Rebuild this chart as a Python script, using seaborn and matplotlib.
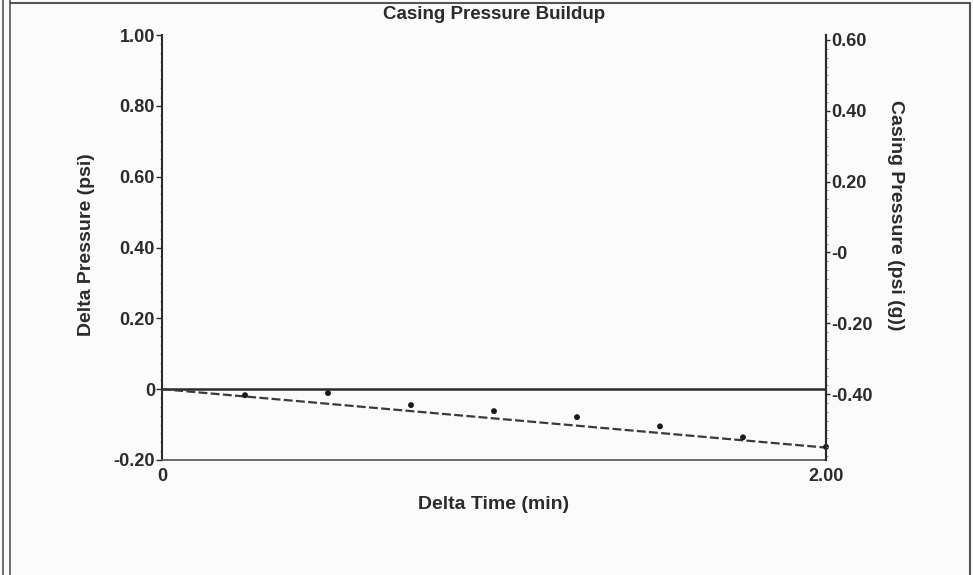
import numpy as np
import pandas as pd
import matplotlib
matplotlib.use("Agg")
import matplotlib.pyplot as plt
import seaborn as sns
from matplotlib.ticker import FixedLocator, MultipleLocator
from matplotlib.lines import Line2D

# Measured points (delta time in min, delta pressure in psi)
delta_time = [0.25, 0.50, 0.75, 1.00, 1.25, 1.50, 1.75, 2.00]
delta_pressure = [-0.017, -0.011, -0.045, -0.062, -0.079, -0.105, -0.136, -0.163]

# Straight-line fit through the buildup
fit_time = [0.0, 2.0]
fit_pressure = [0.0, -0.165]

# Axis ticks and labels
left_ticks = [1.0, 0.8, 0.6, 0.4, 0.2, 0.0, -0.2]
left_labels = ["1.00", "0.80", "0.60", "0.40", "0.20", "0", "-0.20"]
right_ticks = [0.6, 0.4, 0.2, 0.0, -0.2, -0.4]
right_labels = ["0.60", "0.40", "0.20", "-0", "-0.20", "-0.40"]
x_ticks = [0.0, 2.0]
x_labels = ["0", "2.00"]

sns.set_style("white")
plt.rcParams['font.family'] = ['Liberation Sans', 'DejaVu Sans']
plt.rcParams['font.weight'] = 'bold'

bg = "#fbfbfb"
ink = "#2b2b2b"
fs = 13
lfs = 14

fig = plt.figure(figsize=(9.73, 5.75), dpi=100, facecolor=bg)
ax = fig.add_axes([162 / 973, 1 - 460 / 575, (826 - 162) / 973, (460 - 35) / 575])
ax.set_facecolor(bg)

pts = pd.DataFrame({"t": delta_time, "dp": delta_pressure})
fit = pd.DataFrame({"t": fit_time, "dp": fit_pressure})

ax.axhline(0, color=ink, lw=1.8, zorder=2)
sns.lineplot(data=fit, x="t", y="dp", ax=ax, color="#3a3a3a", lw=1.6,
             linestyle=(0, (4, 1.5)), zorder=3)
sns.scatterplot(data=pts, x="t", y="dp", ax=ax, color="#1a1a1a", s=18,
                edgecolor="none", zorder=4, clip_on=False)

ax.set_xlim(0, 2.0)
ax.set_ylim(-0.2, 1.0)
ax.xaxis.set_major_locator(FixedLocator(x_ticks))
ax.set_xticklabels(x_labels)
ax.yaxis.set_major_locator(FixedLocator(left_ticks))
ax.set_yticklabels(left_labels)
ax.yaxis.set_minor_locator(MultipleLocator(0.025))
ax.tick_params(axis="y", which="major", direction="out", length=4, width=1,
               color=ink, labelsize=fs, pad=1, labelcolor=ink)
ax.tick_params(axis="y", which="minor", direction="out", length=1.2, width=0.7,
               color="#888888", left=True)
ax.tick_params(axis="x", which="major", length=0, labelsize=fs, pad=6,
               labelcolor=ink)

for side in ["left", "bottom", "right"]:
    ax.spines[side].set_color(ink)
    ax.spines[side].set_linewidth(1.5)
ax.spines["top"].set_visible(False)
ax.spines["bottom"].set_color("#555555")
ax.spines["bottom"].set_linewidth(1.2)

ax.set_xlabel("Delta Time (min)", fontsize=lfs, fontweight="bold", color=ink)
ax.xaxis.set_label_coords(0.5, -0.085)
ax.set_ylabel("Delta Pressure (psi)", fontsize=lfs, fontweight="bold", color=ink,
              va="center")
ax.yaxis.set_label_coords(-0.114, 0.506)
ax.set_title("Casing Pressure Buildup", fontsize=fs + 0.5, fontweight="bold",
             color=ink, pad=11.5)

ax2 = ax.twinx()
ax2.set_ylim(-0.586, 0.614)
ax2.yaxis.set_major_locator(FixedLocator(right_ticks))
ax2.set_yticklabels(right_labels)
ax2.yaxis.set_minor_locator(MultipleLocator(0.025))
ax2.tick_params(axis="y", which="major", direction="out", length=3, width=1,
                color=ink, labelsize=fs, pad=1, labelcolor=ink)
ax2.tick_params(axis="y", which="minor", direction="out", length=1.2, width=0.7,
                color="#888888")
for side in ["left", "bottom", "top"]:
    ax2.spines[side].set_visible(False)
ax2.spines["right"].set_color(ink)
ax2.spines["right"].set_linewidth(1.5)
ax2.set_ylabel("Casing Pressure (psi (g))", fontsize=lfs, fontweight="bold",
               color=ink, rotation=-90, va="center")
ax2.yaxis.set_label_coords(1.105, 0.576)

# Outer frame of the report panel
for x in [2.5 / 973, 9.5 / 973]:
    fig.add_artist(Line2D([x, x], [0, 1], transform=fig.transFigure,
                          color="#555555", lw=1.2))
fig.add_artist(Line2D([9.5 / 973, 970 / 973], [1 - 3 / 575, 1 - 3 / 575],
                      transform=fig.transFigure, color="#555555", lw=1.5))
fig.add_artist(Line2D([970 / 973, 970 / 973], [0, 1 - 3 / 575],
                      transform=fig.transFigure, color="#555555", lw=1.5))

fig.savefig("out.png", dpi=100, facecolor=bg)
